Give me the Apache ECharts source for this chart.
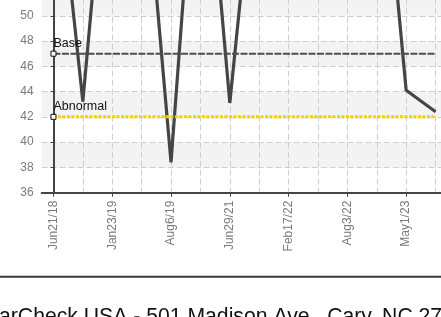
<!DOCTYPE html>
<html>
<head>
<meta charset="utf-8">
<script src="https://cdn.jsdelivr.net/npm/echarts@6/dist/echarts.min.js"></script>
<style>
  html, body { margin: 0; padding: 0; background: #fff; }
  #chart { width: 441px; height: 317px; }
</style>
</head>
<body>
<div id="chart"></div>
<script>
// readings, one per test (only every other date is printed on the axis)
const tickLabels = ['Jun21/18', 'Jan23/19', 'Aug6/19', 'Jun29/21', 'Feb17/22', 'Aug3/22', 'May1/23'];
const readings = [65, 43.2, 69, 65, 38.4, 69.5, 43.1, 66, 67, 66, 68, 69, 44.1, 42.4];
const baseValue = 47;
const abnormalValue = 42;
const footerText = 'arCheck USA - 501 Madison Ave., Cary, NC 27';

const FONT = 'Liberation Sans';
const allIdx = readings.map((v, i) => i);
const labelIdx = tickLabels.map((t, i) => i * 2);

// flat reference line, marker + caption on the first point only
const refLine = (name, value, color, width, dash) => ({
    type: 'line',
    name: name,
    data: readings.map((v, i) => i === 0
        ? { value: [i, value], symbol: 'rect', label: { show: true } }
        : { value: [i, value], symbol: 'none' }),
    symbol: 'rect',
    symbolSize: 5,
    itemStyle: { color: '#fff', borderColor: '#111', borderWidth: 1 },
    lineStyle: { color: color, width: width, type: dash },
    label: {
        show: false,
        position: 'top',
        align: 'left',
        distance: 1,
        formatter: name,
        color: '#111',
        fontFamily: FONT,
        fontSize: 12.5,
    },
    emphasis: { disabled: true },
    animation: false,
});

const chart = echarts.init(document.getElementById('chart'));
chart.setOption({
    animation: false,
    grid: { left: 41.7, top: -262.3, width: 401.2, height: 455, outerBoundsMode: 'none', containLabel: false },
    xAxis: [
        {
            type: 'value',
            min: -0.4,
            max: 13.25,
            axisLine: { show: true, lineStyle: { color: '#444', width: 2 } },
            axisTick: { show: false, customValues: allIdx },
            axisLabel: { show: false },
            splitLine: { show: true, lineStyle: { color: '#cfcfcf', type: [6, 3] } },
        },
        {
            type: 'value',
            min: -0.4,
            max: 13.25,
            position: 'bottom',
            axisLine: { show: false },
            axisTick: { show: true, customValues: labelIdx, length: 4, lineStyle: { color: '#444' } },
            axisLabel: {
                customValues: labelIdx,
                formatter: (v) => tickLabels[Math.round(v / 2)] || '',
                rotate: 90,
                margin: 8,
                color: '#7a7a7a',
                fontFamily: FONT,
                fontSize: 12,
            },
            splitLine: { show: false },
        },
    ],
    yAxis: {
        type: 'value',
        min: 36,
        max: 72,
        interval: 2,
        axisLine: { show: true, lineStyle: { color: '#444', width: 2 } },
        axisTick: { show: true, length: 3, lineStyle: { color: '#444' } },
        axisLabel: { color: '#7a7a7a', fontFamily: FONT, fontSize: 12, margin: 8 },
        splitLine: { show: true, lineStyle: { color: '#cfcfcf', type: [6, 3] } },
        splitArea: { show: true, areaStyle: { color: ['#ffffff', '#f3f3f3'] } },
    },
    series: [
        {
            type: 'line',
            name: 'Reading',
            data: readings.map((v, i) => [i, v]),
            symbol: 'none',
            lineStyle: { color: '#454545', width: 3.2 },
            emphasis: { disabled: true },
        },
        refLine('Base', baseValue, '#4d4d4d', 2, [7, 1.5]),
        refLine('Abnormal', abnormalValue, '#ffcc00', 3, [3, 1.5]),
    ],
    graphic: [
        {
            type: 'line',
            shape: { x1: 0, y1: 276.7, x2: 441, y2: 276.7 },
            style: { stroke: '#3a3a3a', lineWidth: 2 },
        },
        {
            type: 'text',
            left: -1,
            top: 307,
            style: {
                text: footerText,
                fontFamily: FONT,
                fontSize: 21.2,
                fill: '#111',
            },
        },
    ],
});
</script>
</body>
</html>
